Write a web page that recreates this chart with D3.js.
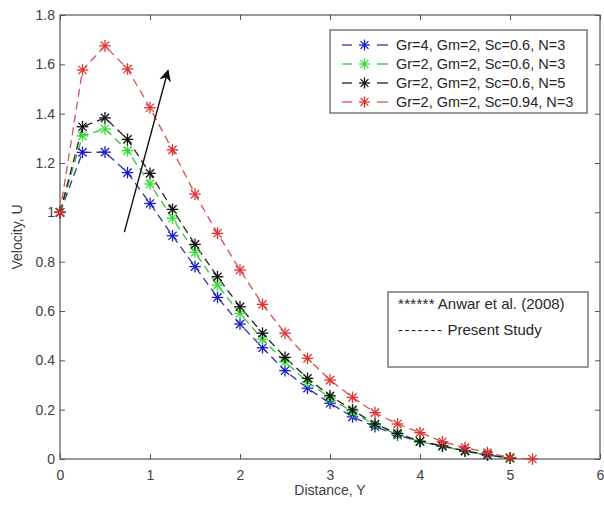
<!DOCTYPE html>
<html>
<head>
<meta charset="utf-8">
<script src="https://cdn.jsdelivr.net/npm/d3@7"></script>
<style>
html,body{margin:0;padding:0;background:#fff;}
svg{display:block;font-family:"Liberation Sans",Arial,sans-serif;}
</style>
</head>
<body>
<svg id="chart" width="604" height="506"></svg>
<script>
// ---- data ----
const distance = [0,0.25,0.5,0.75,1,1.25,1.5,1.75,2,2.25,2.5,2.75,3,3.25,3.5,3.75,4,4.25,4.5,4.75,5];
const distanceRed = [0,0.25,0.5,0.75,1,1.25,1.5,1.75,2,2.25,2.5,2.75,3,3.25,3.5,3.75,4,4.25,4.5,4.75,5,5.25];
const gr4 = [1.0,1.243,1.244,1.161,1.036,0.905,0.78,0.655,0.547,0.451,0.358,0.287,0.226,0.171,0.131,0.097,0.07,0.052,0.032,0.016,0.003];
const gr2 = [1.0,1.31,1.338,1.25,1.115,0.976,0.838,0.705,0.59,0.485,0.394,0.313,0.248,0.19,0.138,0.1,0.07,0.052,0.032,0.016,0.003];
const n5 = [1.0,1.347,1.383,1.296,1.158,1.012,0.87,0.739,0.617,0.51,0.412,0.327,0.256,0.199,0.142,0.104,0.072,0.053,0.033,0.017,0.004];
const sc094 = [1.0,1.577,1.675,1.581,1.424,1.253,1.074,0.915,0.766,0.627,0.51,0.408,0.32,0.25,0.188,0.142,0.107,0.07,0.046,0.026,0.006,0.0];
const seriesLabels = ["Gr=4, Gm=2, Sc=0.6, N=3","Gr=2, Gm=2, Sc=0.6, N=3","Gr=2, Gm=2, Sc=0.6, N=5","Gr=2, Gm=2, Sc=0.94, N=3"];
const seriesColors = ["#1a1acc","#33dd33","#111111","#e03232"];
const lineColors = ["#34349a","#3bbf3b","#222222","#d85050"];
const xTicks = [0,1,2,3,4,5,6];
const yTicks = [0,0.2,0.4,0.6,0.8,1,1.2,1.4,1.6,1.8];
const yTickLabels = ["0","0.2","0.4","0.6","0.8","1","1.2","1.4","1.6","1.8"];
const arrowFrom = [0.715, 0.92];
const arrowTo = [1.2, 1.575];
const refLegendPrefix = ["******", "-------"];
const refLegendText = ["Anwar et al. (2008)", "Present Study"];

const series = [
  {x: distance, y: gr4},
  {x: distance, y: gr2},
  {x: distance, y: n5},
  {x: distanceRed, y: sc094}
];

// ---- layout ----
const svg = d3.select("#chart");
const L = 60, R = 600, T = 15, B = 459;
const x = d3.scaleLinear().domain([0,6]).range([L,R]);
const y = d3.scaleLinear().domain([0,1.8]).range([B,T]);
const axisColor = "#555";
const textColor = "#404040";

// frame
svg.append("rect").attr("x",L).attr("y",T).attr("width",R-L).attr("height",B-T)
  .attr("fill","none").attr("stroke",axisColor).attr("stroke-width",1.2);

// axes
const xAx = svg.append("g").attr("transform",`translate(0,${B})`)
  .call(d3.axisBottom(x).tickValues(xTicks).tickSize(-5).tickPadding(11).tickFormat(d3.format("d")));
const xAxTop = svg.append("g").attr("transform",`translate(0,${T})`)
  .call(d3.axisTop(x).tickValues(xTicks).tickSize(-5).tickFormat(""));
const yAx = svg.append("g").attr("transform",`translate(${L},0)`)
  .call(d3.axisLeft(y).tickValues(yTicks).tickSize(-5).tickPadding(5).tickFormat((d,i)=>yTickLabels[i]));
const yAxR = svg.append("g").attr("transform",`translate(${R},0)`)
  .call(d3.axisRight(y).tickValues(yTicks).tickSize(-5).tickFormat(""));
[xAx,xAxTop,yAx,yAxR].forEach(g=>{
  g.select(".domain").remove();
  g.selectAll("line").attr("stroke",axisColor);
  g.selectAll("text").attr("fill",textColor).style("font-size","14px").style("font-family","'Liberation Sans',Arial,sans-serif");
});

// axis labels
svg.append("text").attr("x",(L+R)/2).attr("y",495).attr("text-anchor","middle")
  .attr("fill",textColor).style("font-size","14px").text("Distance, Y");
svg.append("text").attr("transform",`translate(22,${(T+B)/2}) rotate(-90)`).attr("text-anchor","middle")
  .attr("fill",textColor).style("font-size","14px").text("Velocity, U");

// asterisk marker
function star(g, cx, cy, r, color, w){
  const a = r*0.7071;
  const segs = [[-r,0,r,0],[0,-r,0,r],[-a,-a,a,a],[-a,a,a,-a]];
  segs.forEach(s=>g.append("line").attr("x1",cx+s[0]).attr("y1",cy+s[1]).attr("x2",cx+s[2]).attr("y2",cy+s[3])
    .attr("stroke",color).attr("stroke-width",w||1.3));
}

const plot = svg.append("g");
const line = d3.line().x(d=>x(d[0])).y(d=>y(d[1]));
series.forEach((s,i)=>{
  const pts = s.x.map((v,k)=>[v,s.y[k]]);
  plot.append("path").attr("d",line(pts)).attr("fill","none")
    .attr("stroke",lineColors[i]).attr("stroke-width",1.3).attr("stroke-dasharray","8,5");
});
series.forEach((s,i)=>{
  s.x.forEach((v,k)=>star(plot, x(v), y(s.y[k]), 5.8, seriesColors[i], 1.3));
});

// arrow
svg.append("defs").append("marker").attr("id","ah").attr("viewBox","0 0 10 10")
  .attr("refX",9).attr("refY",5).attr("markerWidth",13).attr("markerHeight",12)
  .attr("markerUnits","userSpaceOnUse").attr("orient","auto")
  .append("path").attr("d","M0,0 L10,5 L0,10 L3,5 Z").attr("fill","#111");
svg.append("line").attr("x1",x(arrowFrom[0])).attr("y1",y(arrowFrom[1]))
  .attr("x2",x(arrowTo[0])).attr("y2",y(arrowTo[1]))
  .attr("stroke","#111").attr("stroke-width",1.4).attr("marker-end","url(#ah)");

// legend 1
const lg = svg.append("g");
lg.append("rect").attr("x",330).attr("y",30).attr("width",257).attr("height",83)
  .attr("fill","#fff").attr("stroke",axisColor).attr("stroke-width",1.2);
seriesLabels.forEach((t,i)=>{
  const yy = 45 + i*19;
  lg.append("line").attr("x1",342).attr("x2",352).attr("y1",yy).attr("y2",yy).attr("stroke",lineColors[i]).attr("stroke-width",1.3);
  lg.append("line").attr("x1",377).attr("x2",388).attr("y1",yy).attr("y2",yy).attr("stroke",lineColors[i]).attr("stroke-width",1.3);
  star(lg, 364.5, yy, 5.5, seriesColors[i], 1.3);
  lg.append("text").attr("x",396).attr("y",yy+5).attr("fill","#262626").style("font-size","14.5px").text(t);
});

// legend 2
const lg2 = svg.append("g");
lg2.append("rect").attr("x",388).attr("y",292).attr("width",200).attr("height",75)
  .attr("fill","#fff").attr("stroke",axisColor).attr("stroke-width",1.2);
refLegendPrefix.forEach((p,i)=>{
  const t = lg2.append("text").attr("x",398).attr("y",309+i*26).attr("fill","#262626").style("font-size","15px");
  t.append("tspan").attr("letter-spacing", i===0 ? "0.3px" : "1.5px").text(p);
  t.append("tspan").attr("dx", i===0 ? 3 : 4).text(refLegendText[i]);
});
</script>
</body>
</html>
